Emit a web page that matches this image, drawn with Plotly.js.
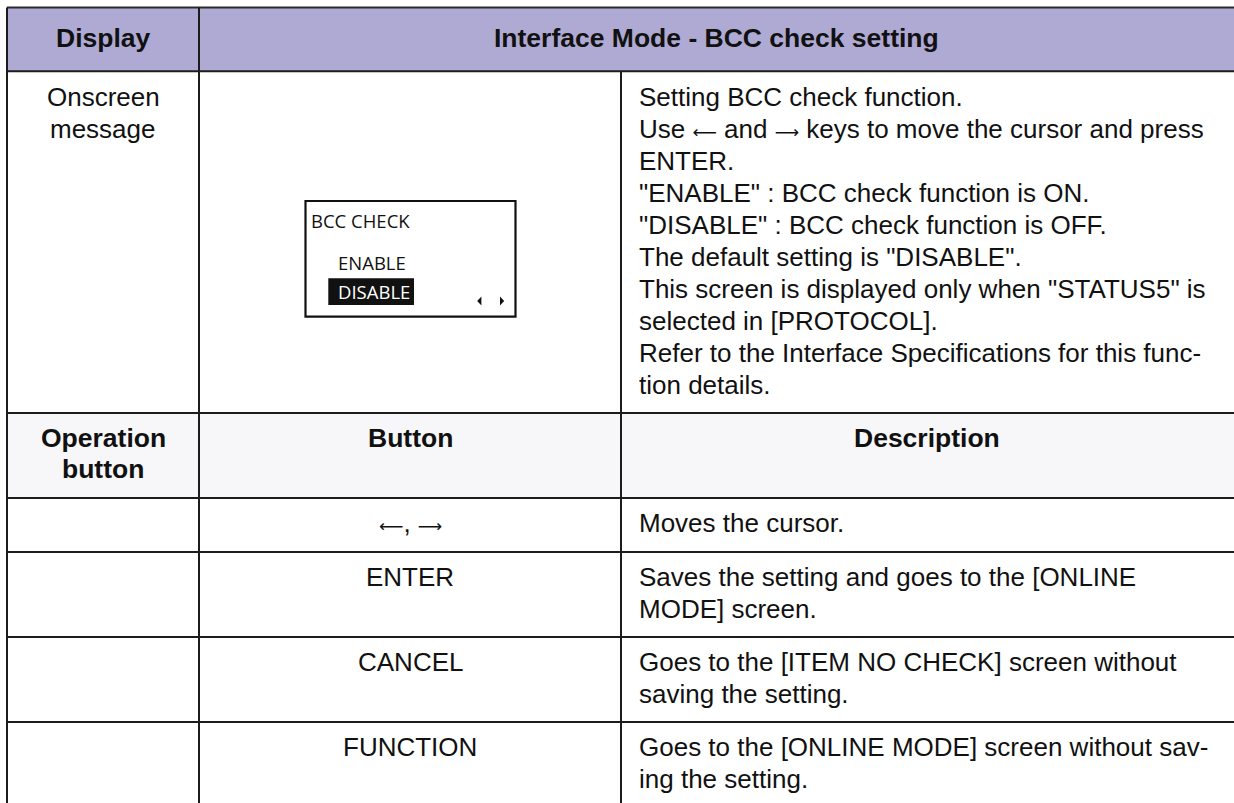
<!DOCTYPE html>
<html>
<head>
<meta charset="utf-8">
<script src="https://cdn.plot.ly/plotly-3.0.1.min.js"></script>
<style>html,body{margin:0;padding:0;background:#fff;}#chart{width:1234px;height:803px;}</style>
</head>
<body>
<div id="chart"></div>
<script>
// ---- table contents ----
const headerLabels = ['Display', 'Interface Mode - BCC check setting'];
const rowLabelLines = ['Onscreen', 'message'];
const screenTitle = 'BCC CHECK';
const screenOptions = ['ENABLE', 'DISABLE'];
const screenSelected = 'DISABLE';
const displayDescLines = [
  'Setting BCC check function.',
  'Use \u2190 and \u2192 keys to move the cursor and press',
  'ENTER.',
  '"ENABLE" : BCC check function is ON.',
  '"DISABLE" : BCC check function is OFF.',
  'The default setting is "DISABLE".',
  'This screen is displayed only when "STATUS5" is',
  'selected in [PROTOCOL].',
  'Refer to the Interface Specifications for this func-',
  'tion details.'
];
const opHeaderLines = ['Operation', 'button'];
const opColumnHeaders = ['Button', 'Description'];
const buttonLabels = ['\u2190, \u2192', 'ENTER', 'CANCEL', 'FUNCTION'];
const buttonDescLines = [
  ['Moves the cursor.'],
  ['Saves the setting and goes to the [ONLINE', 'MODE] screen.'],
  ['Goes to the [ITEM NO CHECK] screen without', 'saving the setting.'],
  ['Goes to the [ONLINE MODE] screen without sav-', 'ing the setting.']
];

// ---- geometry / style ----
const W = 1234, H = 803;
const colX = [7, 199, 621, 1245];
const rowY = [7.5, 71.3, 413, 498, 552, 637, 722, 812];
const LINE = '#1c1c1c';
const HEAD_FILL = '#afaad4';
const SUB_FILL = '#f7f7fa';
const TXT = '#111111';
const FONT = 'Liberation Sans, Arial, sans-serif';
const LCD_FONT = 'Open Sans, Noto Sans, sans-serif';
const BODY = 26, BOLD = 26.5, LCD = 18.5;
const LH = 32;

// render arrow glyphs as long thin arrows (as in the printed manual)
const LONG_ARROW = {'\u2190': '\u27F5', '\u2192': '\u27F6'};
function arrows(t) {
  return t.replace(/([\u2190\u2192])/g, function (m) {
    return '<span style="font-family:DejaVu Sans;font-size:17px">' + LONG_ARROW[m] + '</span>';
  });
}

function ann(text, x, baseline, size, opts) {
  opts = opts || {};
  const off = opts.off !== undefined ? opts.off : 0.3465;
  const t = arrows(text);
  return {
    text: opts.bold ? '<b>' + t + '</b>' : t,
    x: x, y: baseline - off * size, xref: 'x', yref: 'y',
    xanchor: opts.anchor || 'center', yanchor: 'middle',
    showarrow: false, borderpad: 0,
    font: {family: opts.family || FONT, size: size, color: opts.color || TXT}
  };
}

const shapes = [];
const annotations = [];

// fills
shapes.push({type: 'rect', xref: 'x', yref: 'y', x0: colX[0], x1: colX[3], y0: rowY[0], y1: rowY[1], fillcolor: HEAD_FILL, line: {width: 0}, layer: 'below'});
shapes.push({type: 'rect', xref: 'x', yref: 'y', x0: colX[0], x1: colX[3], y0: rowY[2], y1: rowY[3], fillcolor: SUB_FILL, line: {width: 0}, layer: 'below'});

// horizontal lines
rowY.slice(0, 7).forEach(function (y, i) {
  shapes.push({type: 'line', xref: 'x', yref: 'y', x0: colX[0], x1: colX[3], y0: y, y1: y, line: {color: i === 0 ? '#2a2a2a' : LINE, width: 2}});
});
// vertical lines
shapes.push({type: 'line', xref: 'x', yref: 'y', x0: colX[0], x1: colX[0], y0: rowY[0], y1: rowY[7], line: {color: LINE, width: 2}});
shapes.push({type: 'line', xref: 'x', yref: 'y', x0: colX[1], x1: colX[1], y0: rowY[0], y1: rowY[7], line: {color: LINE, width: 2}});
shapes.push({type: 'line', xref: 'x', yref: 'y', x0: colX[2], x1: colX[2], y0: rowY[1], y1: rowY[7], line: {color: LINE, width: 2}});

// header texts
annotations.push(ann(headerLabels[0], (colX[0] + colX[1]) / 2, 47, BOLD, {bold: true}));
annotations.push(ann(headerLabels[1], 716, 47, BOLD, {bold: true}));

// onscreen message row
rowLabelLines.forEach(function (t, i) {
  annotations.push(ann(t, 103, 106 + i * LH, BODY));
});
displayDescLines.forEach(function (t, i) {
  annotations.push(ann(t, 638, 106 + i * LH, BODY, {anchor: 'left'}));
});

// LCD screen illustration
shapes.push({type: 'rect', xref: 'x', yref: 'y', x0: 305.5, x1: 515.5, y0: 201, y1: 316.7, line: {color: '#111', width: 2.2}, fillcolor: 'rgba(0,0,0,0)'});
shapes.push({type: 'rect', xref: 'x', yref: 'y', x0: 328.3, x1: 414, y0: 278.3, y1: 305, line: {width: 0}, fillcolor: '#111'});
shapes.push({type: 'path', xref: 'x', yref: 'y', path: 'M 481.4 296.6 L 481.4 305.4 L 477.2 301 Z', fillcolor: '#111', line: {width: 0}});
shapes.push({type: 'path', xref: 'x', yref: 'y', path: 'M 500 296.6 L 500 305.4 L 504.2 301 Z', fillcolor: '#111', line: {width: 0}});
annotations.push(ann(screenTitle, 309.5, 227.3, LCD, {anchor: 'left', family: LCD_FONT, off: 0.388, color: '#111'}));
annotations.push(ann(screenOptions[0], 337, 270, LCD, {anchor: 'left', family: LCD_FONT, off: 0.388, color: '#111'}));
annotations.push(ann(screenOptions[1], 337, 298.3, LCD, {anchor: 'left', family: LCD_FONT, off: 0.388, color: screenOptions[1] === screenSelected ? '#ffffff' : '#111'}));

// operation header row
opHeaderLines.forEach(function (t, i) {
  annotations.push(ann(t, 103, 447 + i * 31, BOLD, {bold: true}));
});
annotations.push(ann(opColumnHeaders[0], (colX[1] + colX[2]) / 2, 447, BOLD, {bold: true}));
annotations.push(ann(opColumnHeaders[1], 927, 447, BOLD, {bold: true}));

// button rows
const rowTops = [rowY[3], rowY[4], rowY[5], rowY[6]];
buttonLabels.forEach(function (b, i) {
  const base = rowTops[i] + 34;
  annotations.push(ann(b, (colX[1] + colX[2]) / 2, base, BODY));
  buttonDescLines[i].forEach(function (t, j) {
    annotations.push(ann(t, 638, base + j * LH, BODY, {anchor: 'left'}));
  });
});

const layout = {
  width: W, height: H,
  margin: {l: 0, r: 0, t: 0, b: 0, pad: 0},
  paper_bgcolor: '#ffffff', plot_bgcolor: '#ffffff',
  showlegend: false,
  xaxis: {range: [0, W], visible: false, fixedrange: true},
  yaxis: {range: [H, 0], visible: false, fixedrange: true},
  shapes: shapes,
  annotations: annotations
};

Plotly.newPlot('chart', [{type: 'scatter', x: [], y: [], mode: 'markers', hoverinfo: 'skip'}], layout, {staticPlot: true, displayModeBar: false});
</script>
</body>
</html>
